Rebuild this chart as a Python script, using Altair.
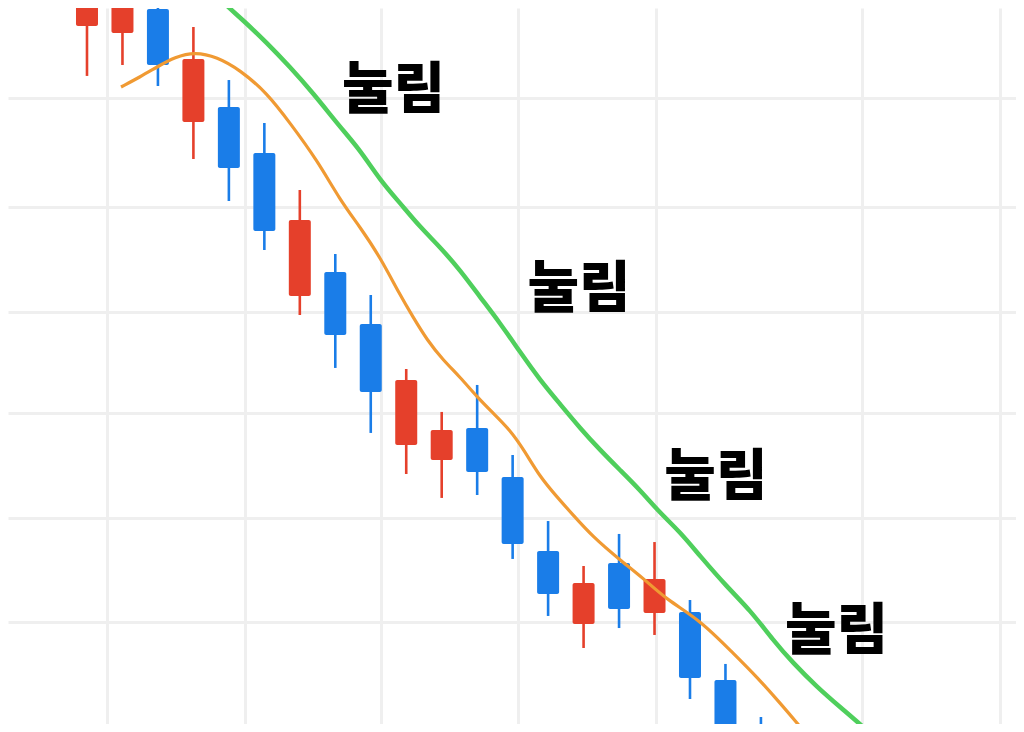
import altair as alt
import pandas as pd

# ---- candle data (index, OHLC) ----
idx = list(range(20))
open_ = [1067.05, 1066.38, 1068.67, 1057.90, 1059.33, 1054.95, 1041.33, 1043.62, 1038.67, 1027.14,
         1025.71, 1028.76, 1024.10, 1017.05, 1010.10, 1015.90, 1011.14, 1011.24, 1004.76, 998.57]
close = [1070.95, 1070.48, 1063.33, 1063.90, 1053.52, 1047.52, 1048.57, 1037.62, 1032.19, 1033.33,
         1028.57, 1024.57, 1017.71, 1012.95, 1014.00, 1011.52, 1014.38, 1004.95, 997.14, 993.33]
high = [1072.38, 1071.90, 1070.29, 1066.95, 1061.90, 1057.81, 1051.43, 1045.33, 1041.43, 1034.38,
        1030.29, 1032.86, 1026.19, 1019.90, 1015.62, 1018.67, 1017.90, 1012.38, 1006.29, 1001.24]
low = [1062.29, 1063.33, 1061.33, 1054.38, 1050.38, 1045.71, 1039.52, 1034.48, 1028.29, 1024.38,
       1022.10, 1022.38, 1016.29, 1010.86, 1007.81, 1009.71, 1009.05, 1002.95, 994.29, 991.43]

# ---- short moving average (orange) ----
ma_s_x = [0.959, 1.494, 1.973, 2.481, 3.045, 3.665, 4.314, 5.075, 5.723, 6.484, 7.133, 7.697,
          8.260, 8.824, 9.191, 9.586, 10.037, 10.516, 11.000, 11.446, 11.926, 12.320, 12.771,
          13.251, 13.702, 14.266, 15.027, 15.675, 16.352, 17.282, 18.213, 18.889, 19.538,
          20.186, 20.525]
ma_s_y = [1061.24, 1062.19, 1063.14, 1064.10, 1064.57, 1064.10, 1062.86, 1060.67, 1057.81,
          1054.29, 1050.48, 1047.90, 1045.05, 1041.43, 1039.33, 1037.14, 1035.24, 1033.62,
          1031.71, 1030.19, 1028.57, 1026.67, 1024.10, 1022.19, 1020.48, 1018.38, 1016.19,
          1014.48, 1012.38, 1010.48, 1007.33, 1005.05, 1002.57, 1000.00, 998.57]

# ---- long moving average (green) ----
ma_l_x = [3.327, 3.750, 4.398, 5.075, 5.723, 6.372, 7.133, 7.697, 8.260, 8.824, 9.388, 9.952,
          10.516, 11.080, 11.644, 12.208, 12.771, 13.335, 13.899, 14.463, 15.027, 15.591, 16.155,
          16.719, 17.282, 18.044, 18.692, 19.340, 19.904, 20.581, 21.229, 21.991, 22.498]
ma_l_y = [1071.24, 1069.52, 1067.62, 1065.43, 1063.14, 1060.67, 1057.43, 1055.24, 1052.38,
          1050.19, 1047.90, 1046.00, 1043.81, 1041.24, 1038.76, 1036.00, 1033.33, 1031.05,
          1028.76, 1026.67, 1024.76, 1022.86, 1020.67, 1018.86, 1016.57, 1013.62, 1011.43,
          1008.57, 1006.38, 1004.10, 1002.19, 1000.00, 998.29]

# ---- annotations ----
label_text = ["눌림", "눌림", "눌림", "눌림"]
label_x = [8.64, 13.87, 17.73, 21.13]
label_y = [1060.86, 1041.91, 1024.00, 1009.38]

# ---- grid positions ----
grid_x = [0.56, 4.45, 8.29, 12.15, 16.04, 21.85, 25.74]
grid_y = [1010.29, 1020.19, 1030.19, 1039.81, 1049.81, 1060.19]

candles = pd.DataFrame({"i": idx, "open": open_, "close": close, "high": high, "low": low})
candles["dir"] = ["up" if c >= o else "down" for o, c in zip(open_, close)]
ma_s = pd.DataFrame({"i": ma_s_x, "v": ma_s_y})
ma_l = pd.DataFrame({"i": ma_l_x, "v": ma_l_y})
labels = pd.DataFrame({"i": label_x, "v": label_y, "t": label_text})

xs = alt.Scale(domain=[-2.227, 26.191], nice=False, zero=False, padding=0)
ys = alt.Scale(domain=[1000.571, 1068.76], nice=False, zero=False, padding=0)
cs = alt.Scale(domain=["up", "down"], range=["#E5402B", "#1A7DE8"])

grid_ax_x = alt.Axis(values=grid_x, grid=True, gridColor="#EFEFEF", gridWidth=3,
                     labels=False, ticks=False, domain=False, title=None)
grid_ax_y = alt.Axis(values=grid_y, grid=True, gridColor="#EFEFEF", gridWidth=3,
                     labels=False, ticks=False, domain=False, title=None)

base = alt.Chart(candles)

wicks = base.mark_rule(strokeWidth=2.6, clip=True).encode(
    x=alt.X("i:Q", scale=xs, axis=grid_ax_x),
    y=alt.Y("low:Q", scale=ys, axis=grid_ax_y),
    y2="high:Q",
    color=alt.Color("dir:N", scale=cs, legend=None),
)

bodies = base.mark_bar(size=22, cornerRadius=2, clip=True).encode(
    x=alt.X("i:Q", scale=xs),
    y=alt.Y("open:Q", scale=ys),
    y2="close:Q",
    color=alt.Color("dir:N", scale=cs, legend=None),
)

line_s = alt.Chart(ma_s).mark_line(color="#F09A33", strokeWidth=3.2, interpolate="basis", clip=True).encode(
    x=alt.X("i:Q", scale=xs), y=alt.Y("v:Q", scale=ys)
)
line_l = alt.Chart(ma_l).mark_line(color="#4FCF5C", strokeWidth=4.5, interpolate="basis", clip=True).encode(
    x=alt.X("i:Q", scale=xs), y=alt.Y("v:Q", scale=ys)
)

texts = alt.Chart(labels).mark_text(
    font="Noto Sans CJK KR", fontWeight=900, fontSize=56, color="#000000",
    align="center", baseline="middle"
).encode(x=alt.X("i:Q", scale=xs), y=alt.Y("v:Q", scale=ys), text="t:N")

chart = alt.layer(wicks, bodies, line_s, line_l, texts).properties(
    width=1008, height=716, padding=0, background="white",
    autosize=alt.AutoSizeParams(type="none")
).configure_view(stroke=None)

chart.save("out.html", embed_options={"renderer": "svg", "actions": False})
